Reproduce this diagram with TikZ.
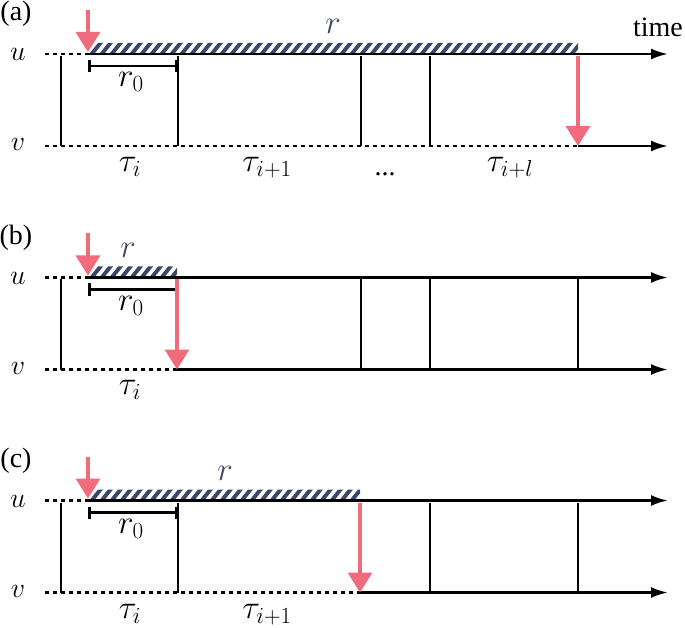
\RequirePackage{fix-cm}
\documentclass[tikz,border=0pt]{standalone}
\usepackage{fontspec}
\setmainfont{Liberation Serif}
\usepackage{xcolor}
\usepackage{tikz}
\usetikzlibrary{arrows.meta}

\definecolor{hitred}{HTML}{F06B7C}
\definecolor{navy}{HTML}{3A4768}

\newcommand{\hatchbar}[2]{%
  \begin{scope}
    \clip (#1,43) rectangle (#2,53);
    \pgfmathtruncatemacro{\nstripe}{(#2-#1)/10+1}
    \foreach \k in {0,...,\nstripe}
      \fill[navy] (#1+\k*10-8,53) -- (#1+\k*10-3,53) -- (#1+\k*10+5,43) -- (#1+\k*10,43) -- cycle;
  \end{scope}}

\begin{document}
\begin{tikzpicture}[x=1pt,y=-1pt,
    font=\fontsize{28}{32}\selectfont,
    axis/.style={line width=2.5pt,-{Latex[length=17pt,width=11pt]}},
    dots/.style={line width=2.5pt,dash pattern=on 4pt off 4pt},
    tick/.style={line width=1.3pt},
    hit/.style={draw=hitred,line width=3.5pt,-{Triangle[length=20pt,width=24pt]}},
    span/.style={line width=2.5pt,{Bar[width=12pt]}-{Bar[width=12pt]}},
    lbl/.style={inner sep=0pt},
    bl/.style={inner sep=0pt,anchor=base},
    big/.style={bl,font=\fontsize{33}{36}\selectfont}]
\useasboundingbox (0,0) rectangle (685,628);

% (a)
\node[lbl] (tag-a) at (16,14) {(a)};
\node[bl] (u-a) at (18,61) {$u$};
\node[bl] (v-a) at (18,151) {$v$};
\node[bl] (time) at (658,37) {time};
\coordinate (ua-s) at (45,54); \coordinate (ua-o) at (88,54); \coordinate (ua-e) at (668,54);
\coordinate (va-s) at (45,146); \coordinate (va-o) at (578,146); \coordinate (va-e) at (668,146);
\hatchbar{88}{578}
\draw[dots] (ua-s) -- (ua-o);
\draw[axis] (ua-o) -- (ua-e);
\draw[dots] (va-s) -- (va-o);
\draw[axis] (va-o) -- (va-e);
\foreach \x in {61,178,361,430} \draw[tick] (\x,56) -- (\x,146);
\coordinate (r0a-s) at (88,66); \coordinate (r0a-e) at (177,66);
\draw[span] (r0a-s) -- (r0a-e);
\node[big] (r0-a) at (131,87) {$r_0$};
\node[big,text=navy] (r-a) at (333,34) {$r$};
\coordinate (hit-a) at (88,10);
\draw[hit] (hit-a) -- ([yshift=2pt]ua-o);
\draw[hit] ([yshift=-2pt]578,54) -- (va-o);
\node[big] (t0-a) at (130,172) {$\tau_i$};
\node[big] (t1-a) at (267,172) {$\tau_{i+1}$};
\node[bl] (dots-a) at (385,176) {...};
\node[big] (tl-a) at (510,172) {$\tau_{i+l}$};

% (b)
\begin{scope}[yshift=-223.5pt]
\node[lbl] (tag-b) at (16,14) {(b)};
\node[bl] (u-b) at (18,61) {$u$};
\node[bl] (v-b) at (18,151) {$v$};
\coordinate (ub-s) at (45,54); \coordinate (ub-o) at (88,54); \coordinate (ub-e) at (668,54);
\coordinate (vb-s) at (45,146); \coordinate (vb-o) at (177,146); \coordinate (vb-e) at (668,146);
\hatchbar{88}{177}
\draw[dots] (ub-s) -- (ub-o);
\draw[axis] (ub-o) -- (ub-e);
\draw[dots] (vb-s) -- (vb-o);
\draw[axis] (vb-o) -- (vb-e);
\foreach \x in {61,361,430,578} \draw[tick] (\x,56) -- (\x,146);
\coordinate (r0b-s) at (88,66); \coordinate (r0b-e) at (177,66);
\draw[span] (r0b-s) -- (r0b-e);
\node[big] (r0-b) at (131,87) {$r_0$};
\node[big,text=navy] (r-b) at (128,34) {$r$};
\coordinate (hit-b) at (88,10);
\draw[hit] (hit-b) -- ([yshift=2pt]ub-o);
\draw[hit] ([yshift=-2pt]177,54) -- (vb-o);
\node[big] (t0-b) at (130,171) {$\tau_i$};
\end{scope}

% (c)
\begin{scope}[yshift=-446.5pt]
\node[lbl] (tag-c) at (16,14) {(c)};
\node[bl] (u-c) at (18,61) {$u$};
\node[bl] (v-c) at (18,151) {$v$};
\coordinate (uc-s) at (45,54); \coordinate (uc-o) at (88,54); \coordinate (uc-e) at (668,54);
\coordinate (vc-s) at (45,146); \coordinate (vc-o) at (360,146); \coordinate (vc-e) at (668,146);
\hatchbar{88}{360}
\draw[dots] (uc-s) -- (uc-o);
\draw[axis] (uc-o) -- (uc-e);
\draw[dots] (vc-s) -- (vc-o);
\draw[axis] (vc-o) -- (vc-e);
\foreach \x in {61,178,430,578} \draw[tick] (\x,56) -- (\x,146);
\coordinate (r0c-s) at (88,66); \coordinate (r0c-e) at (177,66);
\draw[span] (r0c-s) -- (r0c-e);
\node[big] (r0-c) at (131,87) {$r_0$};
\node[big,text=navy] (r-c) at (225,34) {$r$};
\coordinate (hit-c) at (88,10);
\draw[hit] (hit-c) -- ([yshift=2pt]uc-o);
\draw[hit] ([yshift=-2pt]360,54) -- (vc-o);
\node[big] (t0-c) at (130,172) {$\tau_i$};
\node[big] (t1-c) at (267,172) {$\tau_{i+1}$};
\end{scope}
\end{tikzpicture}
\end{document}
